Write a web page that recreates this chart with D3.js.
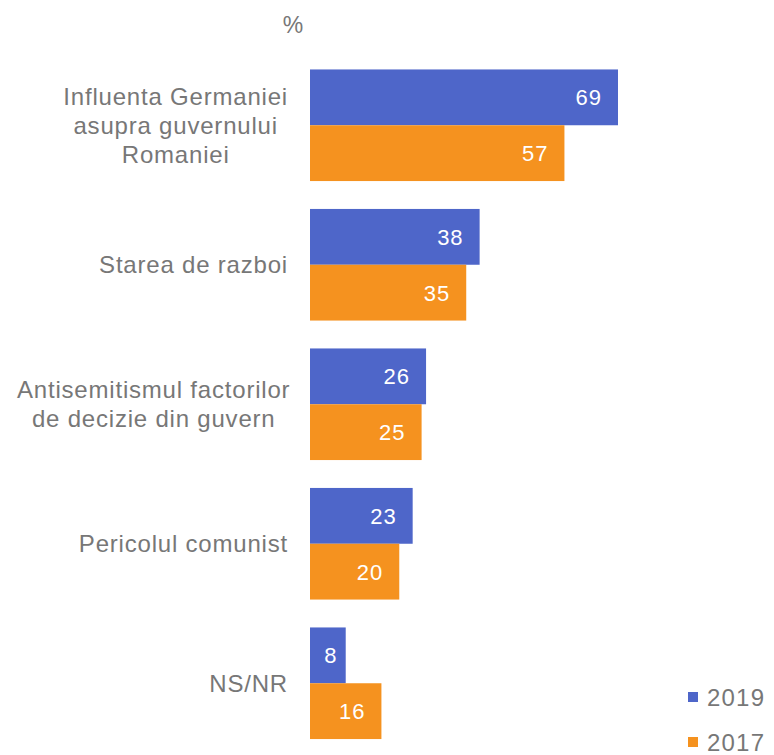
<!DOCTYPE html>
<html><head><meta charset="utf-8">
<script src="https://cdn.jsdelivr.net/npm/d3@7"></script>
<style>body{margin:0;background:#fff;} svg{display:block;font-family:"Liberation Sans",Arial,sans-serif;}</style>
</head><body>
<svg id="c" width="774" height="755"></svg>
<script>
const categories = [
  ["Influenta Germaniei","asupra guvernului","Romaniei"],
  ["Starea de razboi"],
  ["Antisemitismul factorilor","de decizie din guvern"],
  ["Pericolul comunist"],
  ["NS/NR"]
];
const seriesNames = ["2019","2017"];
const values2019 = [69,38,26,23,8];
const values2017 = [57,35,25,20,16];
const colors = ["#4E66C9","#F5921F"];
const unitLabel = "%";

const svg = d3.select("#c");
const textColor = "#777777";
const x = d3.scaleLinear().domain([0,69]).range([310,618]);
const y = d3.scaleBand().domain(d3.range(categories.length)).range([55.5,753]).paddingInner(0.2).paddingOuter(0.1);
const sub = d3.scaleBand().domain([0,1]).range([0,y.bandwidth()]);

const series = [values2019, values2017];
series.forEach((vals,si)=>{
  const g = svg.append("g");
  g.selectAll("rect").data(vals).enter().append("rect")
    .attr("x", x(0)).attr("y",(d,i)=>y(i)+sub(si))
    .attr("width", d=>x(d)-x(0)).attr("height", sub.bandwidth())
    .attr("fill", colors[si]);
  g.selectAll("text").data(vals).enter().append("text")
    .attr("x", d=>{const w=x(d)-x(0); return w<40 ? x(0)+w/2+3 : x(d)-16;})
    .attr("text-anchor", d=>(x(d)-x(0))<40 ? "middle":"end")
    .attr("y",(d,i)=>y(i)+sub(si)+sub.bandwidth()/2)
    .attr("dy","0.36em").attr("fill","#fff").attr("font-size",22).attr("letter-spacing",1)
    .text(d=>d);
});

// category labels
const labelRight = 288;
const fs = 24, ls = 0.8;
categories.forEach((lines,i)=>{
  const cy = y(i)+y.bandwidth()/2;
  const t = svg.append("text").attr("font-size",fs).attr("letter-spacing",ls).attr("fill",textColor).attr("text-anchor","middle");
  const tmp = svg.append("text").attr("font-size",fs).attr("letter-spacing",ls);
  let maxW = 0;
  lines.forEach(l=>{tmp.text(l); maxW=Math.max(maxW,tmp.node().getComputedTextLength());});
  tmp.remove();
  const right = Math.max(labelRight, maxW+17);
  const cx = right - maxW/2;
  lines.forEach((l,k)=>{
    t.append("tspan").attr("x",cx).attr("y",cy+(k-(lines.length-1)/2)*29).attr("dy","0.36em").text(l);
  });
});

// unit label
svg.append("text").attr("x",293).attr("y",25).attr("dy","0.36em").attr("text-anchor","middle")
  .attr("font-size",23).attr("fill",textColor).text(unitLabel);

// legend
seriesNames.forEach((n,i)=>{
  const ly = 697 + i*45;
  svg.append("rect").attr("x",688).attr("y",ly-5).attr("width",10).attr("height",10).attr("fill",colors[i]);
  svg.append("text").attr("x",707).attr("y",ly).attr("dy","0.36em").attr("font-size",24).attr("letter-spacing",1.2)
    .attr("fill",textColor).text(n);
});
</script>
</body></html>
